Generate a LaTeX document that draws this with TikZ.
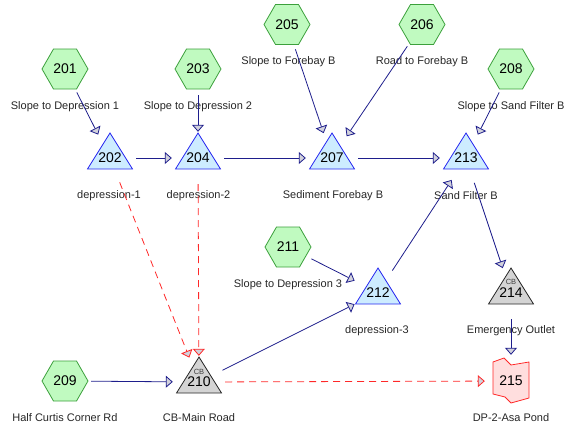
\documentclass[tikz,border=0pt]{standalone}
\usepackage{fontspec}
\setmainfont{Liberation Sans}
\usetikzlibrary{arrows.meta}
\definecolor{edgeblue}{RGB}{30,30,140}
\definecolor{hexfill}{RGB}{192,250,192}
\definecolor{hexline}{RGB}{60,160,60}
\definecolor{trifill}{RGB}{205,236,255}
\definecolor{triline}{RGB}{40,40,240}
\definecolor{cbfill}{RGB}{212,212,212}
\definecolor{cbline}{RGB}{40,40,40}
\definecolor{flowred}{RGB}{255,40,40}
\definecolor{pondfill}{RGB}{255,222,222}
\definecolor{tipfill}{RGB}{210,210,220}
\tikzset{
 port/.style={circle, minimum size=52pt, inner sep=0pt, font=\fontsize{14}{14}\selectfont},
 lbl/.style={inner sep=0pt, font=\fontsize{11}{11}\selectfont, text=black!85},
 cbtxt/.style={inner sep=0pt, font=\fontsize{7.5}{7.5}\selectfont, text=black!75},
 hexsty/.style={fill=hexfill, draw=hexline, line width=0.8pt},
 tristy/.style={fill=trifill, draw=triline, line width=0.8pt},
 cbsty/.style={fill=cbfill, draw=cbline, line width=0.8pt},
 pondsty/.style={fill=pondfill, draw=flowred, line width=0.8pt},
 flow/.style={draw=edgeblue, line width=0.8pt, -{Triangle[length=7pt,width=12pt,fill=tipfill]}},
 diverge/.style={draw=flowred, line width=0.8pt, dash pattern=on 7pt off 5pt, -{Triangle[length=7pt,width=12pt,fill=tipfill]}},
}
\newcommand\hexat[2]{\path[hexsty] (#1-23,#2) -- (#1-11.5,#2-20) -- (#1+11.5,#2-20) -- (#1+23,#2) -- (#1+11.5,#2+20) -- (#1-11.5,#2+20) -- cycle;}
\newcommand\triat[3]{\path[#3] (#1,#2) -- (#1+22.5,#2+36) -- (#1-22.5,#2+36) -- cycle;}
\begin{document}
\begin{tikzpicture}[x=1pt,y=-1pt]
\useasboundingbox (0,0) rectangle (566,429);
% shapes
\hexat{65}{69}
\hexat{198}{69}
\hexat{287}{24.5}
\hexat{422}{24.5}
\hexat{511}{69}
\hexat{288}{247}
\hexat{65}{381}
\triat{110}{133}{tristy}
\triat{198}{133}{tristy}
\triat{332}{133}{tristy}
\triat{466}{133}{tristy}
\triat{378}{268}{tristy}
\triat{511}{268}{cbsty}
\triat{199}{357}{cbsty}
\path[pondsty] (511-18,381-19) -- (511-7,381-23) -- (511,381-16) -- (511+18,381-19) -- (511+18,381+17) -- (511,381+22) -- (511-6,381+16) -- (511-18,381+13) -- cycle;
% nodes
\node[port] (n201) at (65,69) {201};
\node[port] (n203) at (198,69) {203};
\node[port] (n205) at (287,24.5) {205};
\node[port] (n206) at (422,24.5) {206};
\node[port] (n208) at (511,69) {208};
\node[port] (n211) at (288,247) {211};
\node[port] (n209) at (65,381) {209};
\node[port] (n202) at (110,158) {202};
\node[port] (n204) at (198,158) {204};
\node[port] (n207) at (332,158) {207};
\node[port] (n213) at (466,158) {213};
\node[port] (n212) at (378,292.5) {212};
\node[port] (n214) at (511,293) {214};
\node[port] (n210) at (199,382) {210};
\node[port] (n215) at (511,381) {215};
\node[cbtxt] (cb214) at (511,282) {CB};
\node[cbtxt] (cb210) at (199,371.5) {CB};
% labels
\node[lbl] (l201) at (65,107) {Slope to Depression 1};
\node[lbl] (l203) at (198,107) {Slope to Depression 2};
\node[lbl] (l205) at (288.5,62) {Slope to Forebay B};
\node[lbl] (l206) at (422,62) {Road to Forebay B};
\node[lbl] (l208) at (511,107) {Slope to Sand Filter B};
\node[lbl] (l202) at (109,196) {depression-1};
\node[lbl] (l204) at (198.5,196) {depression-2};
\node[lbl] (l207) at (333,196) {Sediment Forebay B};
\node[lbl] (l213) at (466,196) {Sand Filter B};
\node[lbl] (l211) at (288,285) {Slope to Depression 3};
\node[lbl] (l212) at (377,331) {depression-3};
\node[lbl] (l214) at (511,331) {Emergency Outlet};
\node[lbl] (l209) at (65,418) {Half Curtis Corner Rd};
\node[lbl] (l210) at (199,418) {CB-Main Road};
\node[lbl] (l215) at (511,418) {DP-2-Asa Pond};
% connectors
\draw[flow] (n201) -- (n202);
\draw[flow] (n203) -- (n204);
\draw[flow] (n202) -- (n204);
\draw[flow] (n204) -- (n207);
\draw[flow] (n205) -- (n207);
\draw[flow] (n206) -- (n207);
\draw[flow] (n207) -- (n213);
\draw[flow] (n208) -- (n213);
\draw[flow] (n211) -- (n212);
\draw[flow] (n210) -- (n212);
\draw[flow] (n212) -- (n213);
\draw[flow] (n213) -- (n214);
\draw[flow] (n214) -- (n215);
\draw[flow] (n209) -- (n210);
\draw[diverge] (n202) -- (n210);
\draw[diverge] (n204) -- (n210);
\draw[diverge] (n210) -- (n215);
\end{tikzpicture}
\end{document}
